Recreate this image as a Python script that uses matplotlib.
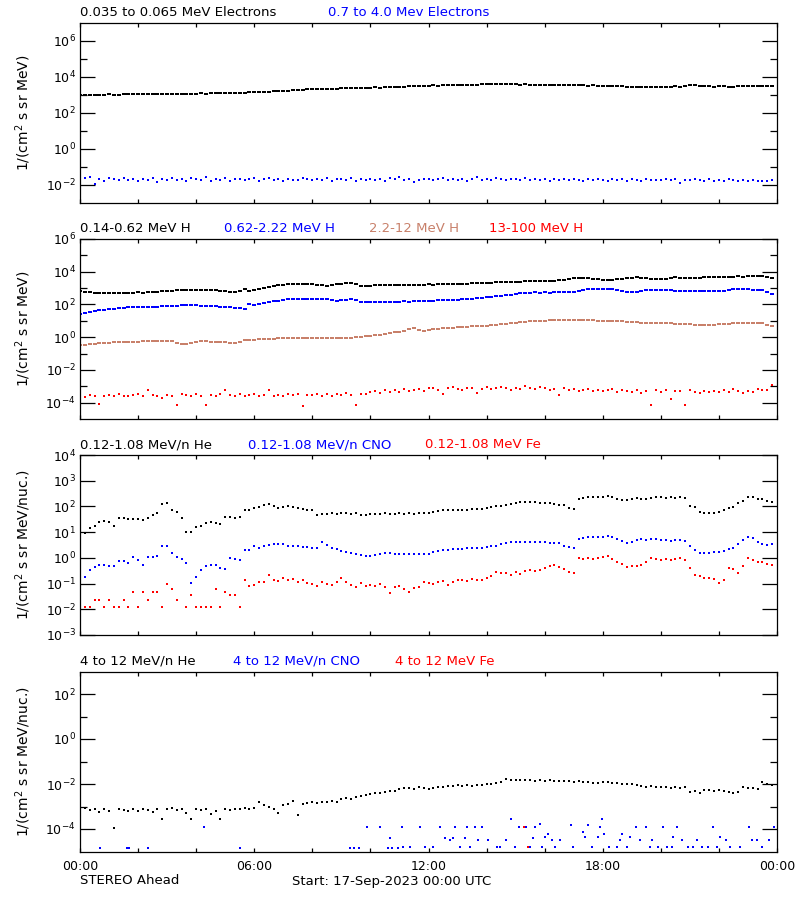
import numpy as np
import matplotlib
matplotlib.use('Agg')
import matplotlib.pyplot as plt
from matplotlib.ticker import FixedLocator, LogFormatterMathtext, NullFormatter

nan = np.nan

# 10 minute samples, hours after 17-Sep-2023 00:00 UTC
hours = np.arange(144) / 6.0

# all series below are log10 of the flux

# panel 1: electrons
elec_lo = [
    3.00, 2.99, 3.01, 3.00, 3.02, 3.01, 3.03, 3.02, 3.02, 3.03, 3.04, 3.03,
    3.04, 3.05, 3.04, 3.05, 3.06, 3.05, 3.06, 3.07, 3.06, 3.07, 3.08, 3.07,
    3.08, 3.09, 3.08, 3.10, 3.09, 3.11, 3.10, 3.12, 3.11, 3.13, 3.12, 3.14,
    3.14, 3.15, 3.17, 3.18, 3.20, 3.22, 3.23, 3.25, 3.26, 3.28, 3.29, 3.31,
    3.32, 3.31, 3.33, 3.34, 3.36, 3.35, 3.37, 3.38, 3.37, 3.39, 3.38, 3.40,
    3.40, 3.42, 3.41, 3.43, 3.44, 3.46, 3.46, 3.47, 3.49, 3.48, 3.50, 3.51,
    3.52, 3.53, 3.52, 3.54, 3.55, 3.54, 3.56, 3.55, 3.57, 3.58, 3.57, 3.59,
    3.60, 3.61, 3.60, 3.61, 3.60, 3.59, 3.60, 3.58, 3.59, 3.58, 3.57, 3.58,
    3.57, 3.56, 3.57, 3.55, 3.56, 3.54, 3.55, 3.53, 3.54, 3.52, 3.53, 3.51,
    3.51, 3.52, 3.50, 3.49, 3.48, 3.47, 3.46, 3.47, 3.45, 3.46, 3.45, 3.46,
    3.45, 3.47, 3.46, 3.48, 3.47, 3.52, 3.54, 3.53, 3.50, 3.49, 3.48, 3.47,
    3.48, 3.49, 3.47, 3.46, 3.48, 3.51, 3.52, 3.51, 3.50, 3.51, 3.50, 3.50,
]
elec_hi = [
    -1.72, -1.62, -1.58, -1.95, -1.65, -1.75, -1.60, -1.68, -1.73, -1.62, -1.70, -1.66,
    -1.78, -1.65, -1.72, -1.60, -1.85, -1.69, -1.74, -1.63, -1.70, -1.66, -1.77, -1.61,
    -1.68, -1.72, -1.58, -1.75, -1.66, -1.70, -1.62, -1.78, -1.67, -1.64, -1.71, -1.69,
    -1.63, -1.75, -1.68, -1.60, -1.72, -1.66, -1.80, -1.64, -1.70, -1.73, -1.61, -1.68,
    -1.74, -1.66, -1.70, -1.59, -1.77, -1.65, -1.69, -1.72, -1.62, -1.75, -1.67, -1.70,
    -1.64, -1.71, -1.68, -1.76, -1.63, -1.69, -1.58, -1.73, -1.66, -1.82, -1.70, -1.67,
    -1.65, -1.72, -1.69, -1.61, -1.74, -1.68, -1.70, -1.64, -1.75, -1.67, -1.55, -1.71,
    -1.66, -1.73, -1.62, -1.69, -1.71, -1.65, -1.68, -1.74, -1.60, -1.70, -1.67, -1.72,
    -1.69, -1.75, -1.66, -1.71, -1.64, -1.73, -1.68, -1.70, -1.80, -1.66, -1.72, -1.69,
    -1.70, -1.78, -1.67, -1.73, -1.65, -1.76, -1.69, -1.72, -1.75, -1.67, -1.70, -1.74,
    -1.71, -1.68, -1.73, -1.66, -1.90, -1.70, -1.74, -1.64, -1.72, -1.77, -1.69, -1.75,
    -1.72, -1.76, -1.68, -1.74, -1.80, -1.71, -1.77, -1.73, -1.79, -1.75, -1.76, -1.74,
]

# panel 2: protons
h_lo = [
    2.81, 2.78, 2.74, 2.71, 2.70, 2.70, 2.71, 2.70, 2.72, 2.71, 2.73, 2.72,
    2.74, 2.73, 2.76, 2.75, 2.78, 2.80, 2.81, 2.84, 2.87, 2.90, 2.91, 2.90,
    2.91, 2.89, 2.90, 2.88, 2.87, 2.84, 2.80, 2.76, 2.75, 2.85, 2.93, 2.82,
    2.88, 2.95, 3.02, 3.08, 3.13, 3.17, 3.19, 3.22, 3.24, 3.26, 3.25, 3.27,
    3.24, 3.20, 3.16, 3.15, 3.19, 3.23, 3.27, 3.31, 3.30, 3.25, 3.14, 3.13,
    3.15, 3.17, 3.19, 3.20, 3.21, 3.20, 3.19, 3.18, 3.20, 3.21, 3.19, 3.21,
    3.22, 3.21, 3.23, 3.22, 3.24, 3.26, 3.27, 3.26, 3.28, 3.29, 3.30, 3.31,
    3.32, 3.33, 3.35, 3.36, 3.37, 3.36, 3.38, 3.40, 3.41, 3.42, 3.43, 3.44,
    3.45, 3.44, 3.46, 3.48, 3.52, 3.57, 3.60, 3.61, 3.60, 3.61, 3.58, 3.53,
    3.50, 3.49, 3.51, 3.55, 3.58, 3.60, 3.63, 3.65, 3.64, 3.62, 3.57, 3.55,
    3.56, 3.58, 3.63, 3.65, 3.64, 3.63, 3.62, 3.63, 3.64, 3.65, 3.66, 3.67,
    3.66, 3.67, 3.69, 3.70, 3.71, 3.70, 3.71, 3.72, 3.73, 3.72, 3.70, 3.62,
]
h_mid = [
    1.43, 1.47, 1.53, 1.59, 1.64, 1.68, 1.71, 1.74, 1.77, 1.80, 1.82, 1.83,
    1.84, 1.85, 1.86, 1.85, 1.87, 1.88, 1.89, 1.90, 1.92, 1.94, 1.96, 1.97,
    1.95, 1.93, 1.92, 1.90, 1.88, 1.86, 1.84, 1.82, 1.79, 1.76, 1.75, 2.03,
    1.98, 2.05, 2.10, 2.16, 2.20, 2.24, 2.28, 2.32, 2.35, 2.36, 2.35, 2.34,
    2.33, 2.34, 2.32, 2.33, 2.28, 2.22, 2.25, 2.29, 2.31, 2.28, 2.14, 2.13,
    2.14, 2.15, 2.14, 2.16, 2.15, 2.17, 2.18, 2.19, 2.18, 2.20, 2.21, 2.22,
    2.23, 2.24, 2.25, 2.26, 2.27, 2.28, 2.30, 2.31, 2.32, 2.34, 2.37, 2.40,
    2.43, 2.46, 2.49, 2.51, 2.55, 2.60, 2.64, 2.68, 2.71, 2.73, 2.74, 2.73,
    2.74, 2.73, 2.74, 2.75, 2.74, 2.76, 2.75, 2.80, 2.88, 2.93, 2.95, 2.96,
    2.95, 2.94, 2.93, 2.90, 2.84, 2.78, 2.75, 2.76, 2.80, 2.88, 2.91, 2.90,
    2.91, 2.89, 2.86, 2.85, 2.84, 2.85, 2.84, 2.83, 2.82, 2.81, 2.82, 2.81,
    2.82, 2.85, 2.90, 2.95, 2.94, 2.93, 2.92, 2.90, 2.89, 2.88, 2.78, 2.62,
]
h_hi = [
    -0.48, -0.45, -0.42, -0.39, -0.37, -0.35, -0.33, -0.31, -0.30, -0.29, -0.28, -0.28,
    -0.27, -0.26, -0.25, -0.24, -0.23, -0.22, -0.22, -0.26, -0.35, -0.42, -0.40, -0.33,
    -0.27, -0.25, -0.26, -0.28, -0.29, -0.30, -0.31, -0.33, -0.34, -0.30, -0.19, -0.18,
    -0.16, -0.14, -0.12, -0.10, -0.09, -0.08, -0.08, -0.07, -0.06, -0.07, -0.06, -0.07,
    -0.06, -0.07, -0.08, -0.08, -0.07, -0.06, -0.05, -0.04, -0.03, -0.01, 0.02, 0.05,
    0.08, 0.12, 0.16, 0.20, 0.24, 0.29, 0.34, 0.40, 0.50, 0.58, 0.42, 0.40,
    0.44, 0.48, 0.52, 0.54, 0.56, 0.58, 0.60, 0.62, 0.64, 0.66, 0.67, 0.69,
    0.71, 0.74, 0.77, 0.80, 0.83, 0.86, 0.89, 0.92, 0.94, 0.96, 0.98, 1.00,
    1.01, 1.02, 1.03, 1.03, 1.04, 1.03, 1.03, 1.04, 1.03, 1.02, 1.03, 1.01,
    1.00, 0.99, 0.98, 0.97, 0.96, 0.95, 0.93, 0.91, 0.89, 0.88, 0.87, 0.87,
    0.86, 0.85, 0.84, 0.83, 0.81, 0.80, 0.79, 0.77, 0.74, 0.73, 0.75, 0.77,
    0.79, 0.80, 0.82, 0.84, 0.85, 0.86, 0.87, 0.88, 0.89, 0.89, 0.72, 0.66,
]
h_top = [
    -3.30, -3.65, -3.52, -3.60, -4.10, -3.58, -3.55, -3.62, -3.48, -3.57, -3.60, -3.53,
    -3.50, -3.62, -3.25, -3.55, -3.60, -3.70, -3.52, -3.58, -4.15, -3.50, -3.55, -3.60,
    -3.45, -3.57, -4.15, -3.52, -3.60, -3.48, -3.25, -3.55, -3.62, -3.50, -3.57, -3.54,
    -3.48, -3.60, -3.55, -3.20, -3.58, -3.52, -3.62, -3.47, -3.55, -3.50, -4.18, -3.56,
    -3.52, -3.45, -3.58, -3.50, -3.62, -3.48, -3.55, -3.40, -3.52, -4.15, -3.45, -3.50,
    -3.38, -3.30, -3.42, -3.25, -3.35, -3.20, -3.32, -3.18, -3.28, -3.22, -3.15, -3.30,
    -3.12, -3.08, -3.20, -3.45, -3.10, -3.05, -3.15, -3.25, -3.12, -3.08, -3.40, -3.18,
    -3.05, -3.15, -3.10, -3.02, -3.12, -3.20, -3.08, -3.15, -3.00, -3.10, -3.18, -3.05,
    -3.12, -3.20, -3.15, -3.55, -3.10, -3.25, -3.18, -3.30, -3.22, -3.15, -3.28, -3.20,
    -3.30, -3.25, -3.18, -3.35, -3.22, -3.28, -3.32, -3.20, -3.40, -3.27, -4.17, -3.25,
    -3.35, -3.22, -3.80, -3.30, -3.28, -4.15, -3.25, -3.35, -3.40, -3.30, -3.38, -3.27,
    -3.32, -3.25, -3.35, -3.18, -3.30, -3.40, -3.28, -3.33, -3.15, -3.25, -3.20, -2.93,
]

# panel 3: 0.12-1.08 MeV/n heavy ions
he_lo = [
    1.08, 0.95, 1.15, 1.25, 1.40, 1.42, 1.38, 1.23, 1.54, 1.55, 1.52, 1.50,
    1.50, 1.48, 1.55, 1.67, 1.76, 2.11, 2.12, 1.86, 1.80, 1.56, 1.00, 0.99,
    1.19, 1.22, 1.37, 1.38, 1.36, 1.33, 1.57, 1.58, 1.56, 1.60, 1.86, 1.88,
    1.93, 1.98, 2.05, 2.09, 2.02, 1.95, 1.98, 2.00, 1.96, 1.92, 1.90, 1.88,
    1.87, 1.67, 1.70, 1.72, 1.74, 1.71, 1.73, 1.75, 1.72, 1.74, 1.65, 1.68,
    1.72, 1.70, 1.71, 1.73, 1.72, 1.70, 1.73, 1.72, 1.74, 1.71, 1.73, 1.75,
    1.76, 1.80, 1.84, 1.86, 1.85, 1.87, 1.86, 1.88, 1.87, 1.89, 1.90, 1.91,
    1.93, 1.96, 2.00, 2.02, 2.06, 2.10, 2.14, 2.18, 2.17, 2.16, 2.18, 2.15,
    2.14, 2.12, 2.10, 2.07, 2.06, 1.92, 1.90, 2.29, 2.33, 2.36, 2.38, 2.37,
    2.38, 2.39, 2.36, 2.30, 2.25, 2.26, 2.28, 2.31, 2.30, 2.27, 2.33, 2.35,
    2.36, 2.34, 2.35, 2.33, 2.36, 2.34, 2.00, 1.96, 1.77, 1.76, 1.75, 1.76,
    1.78, 1.88, 1.93, 1.98, 2.15, 2.20, 2.38, 2.36, 2.28, 2.27, 2.20, 2.17,
]
cno_lo = [
    -0.60, -0.73, -0.47, -0.35, -0.28, -0.27, -0.30, -0.32, -0.11, -0.12, -0.20, 0.04,
    -0.10, -0.28, 0.05, 0.03, 0.06, 0.46, 0.45, 0.20, 0.05, -0.05, -0.20, -0.97,
    -0.76, -0.47, -0.30, -0.28, -0.27, -0.40, -0.45, 0.00, -0.05, -0.10, 0.30, 0.32,
    0.46, 0.40, 0.46, 0.50, 0.52, 0.54, 0.52, 0.48, 0.46, 0.45, 0.44, 0.42,
    0.40, 0.37, 0.60, 0.50, 0.37, 0.33, 0.26, 0.22, 0.18, 0.14, 0.10, 0.06,
    0.08, 0.12, 0.16, 0.19, 0.17, 0.15, 0.15, 0.14, 0.16, 0.15, 0.14, 0.16,
    0.15, 0.22, 0.26, 0.30, 0.32, 0.34, 0.35, 0.36, 0.38, 0.37, 0.39, 0.40,
    0.42, 0.45, 0.48, 0.52, 0.56, 0.60, 0.62, 0.63, 0.62, 0.61, 0.62, 0.63,
    0.60, 0.59, 0.58, 0.57, 0.45, 0.42, 0.40, 0.75, 0.78, 0.80, 0.82, 0.83,
    0.82, 0.84, 0.80, 0.75, 0.65, 0.58, 0.60, 0.68, 0.72, 0.70, 0.74, 0.72,
    0.69, 0.68, 0.67, 0.69, 0.68, 0.66, 0.45, 0.30, 0.20, 0.19, 0.18, 0.21,
    0.22, 0.27, 0.33, 0.40, 0.55, 0.70, 0.82, 0.78, 0.62, 0.55, 0.49, 0.52,
]
fe_lo = [
    nan, -1.93, -1.93, -1.64, -1.64, -1.93, -1.64, -1.93, -1.93, -1.64, -1.93, -1.32,
    -1.93, -1.32, -1.64, -1.32, -1.32, -1.93, -1.03, -1.23, -1.64, nan, -1.93, -1.45,
    -1.93, -1.93, -1.93, -1.93, -1.20, -1.93, -1.32, -1.45, -1.45, -1.93, -0.87, -1.10,
    -1.06, -0.95, -0.93, -0.67, -0.85, -0.90, -0.80, -0.86, -0.82, -0.93, -0.88, -0.98,
    -1.00, -1.08, -0.95, -1.02, -1.06, -0.92, -0.80, -0.95, -1.05, -1.15, -0.97, -1.08,
    -1.06, -1.10, -1.02, -1.15, -1.36, -1.12, -1.08, -1.20, -1.32, -1.18, -1.12, -0.93,
    -0.98, -1.00, -0.95, -0.90, -1.05, -0.92, -0.88, -0.86, -0.90, -0.84, -0.88, -0.86,
    -0.80, -0.72, -0.54, -0.60, -0.58, -0.65, -0.55, -0.62, -0.50, -0.47, -0.52, -0.48,
    -0.40, -0.30, -0.28, -0.36, -0.45, -0.55, -0.59, -0.02, -0.05, 0.00, -0.04, -0.02,
    0.05, 0.08, -0.05, -0.18, -0.25, -0.34, -0.30, -0.32, -0.28, -0.15, -0.01, -0.05,
    -0.08, -0.03, -0.10, -0.05, -0.02, -0.08, -0.40, -0.66, -0.70, -0.80, -0.78, -0.82,
    -0.99, -0.85, -0.40, -0.45, -0.59, -0.30, -0.02, -0.10, -0.18, -0.15, -0.22, -0.28,
]

# panel 4: 4 to 12 MeV/n
he_hi = [
    -3.03, -3.08, -3.15, -3.11, -3.26, -3.12, -3.18, -3.96, -3.10, -3.15, -3.22, -3.12,
    -3.18, -3.10, -3.14, -3.25, -3.09, -3.55, -3.12, -3.08, -3.16, -3.13, -3.30, -3.55,
    -3.10, -3.14, -3.12, -3.35, -3.20, -3.55, -3.12, -3.15, -3.10, -3.13, -3.08, -3.10,
    -3.05, -2.79, -2.95, -3.00, -3.10, -3.29, -2.95, -2.88, -2.76, -3.39, -2.90, -2.85,
    -2.80, -2.85, -2.78, -2.82, -2.75, -2.78, -2.68, -2.63, -2.65, -2.58, -2.55, -2.50,
    -2.45, -2.41, -2.40, -2.36, -2.33, -2.30, -2.22, -2.19, -2.17, -2.20, -2.15, -2.19,
    -2.24, -2.18, -2.14, -2.12, -2.08, -2.10, -2.06, -2.08, -2.05, -2.07, -2.03, -2.05,
    -2.02, -2.00, -1.96, -1.93, -1.78, -1.82, -1.84, -1.81, -1.83, -1.82, -1.85, -1.83,
    -1.86, -1.84, -1.87, -1.86, -1.88, -1.87, -1.90, -1.88, -1.92, -1.93, -1.97, -1.95,
    -1.93, -1.92, -1.95, -1.96, -1.98, -2.00, -2.02, -2.05, -2.08, -2.13, -2.10, -2.12,
    -2.15, -2.14, -2.16, -2.13, -2.18, -2.14, -2.36, -2.30, -2.42, -2.28, -2.25, -2.30,
    -2.26, -2.30, -2.35, -2.42, -2.36, -2.15, -2.18, -2.16, -2.20, -1.93, -2.00, -2.05,
]
# sparse counts: (hour, log10 flux)
cno_hi = [
    (0.69, -4.85), (1.61, -4.85), (1.70, -4.85), (2.33, -4.85), (4.27, -3.93),
    (5.51, -4.85), (9.30, -4.85), (9.45, -4.85), (9.60, -4.85), (9.87, -3.93),
    (10.33, -3.93), (10.60, -4.85), (10.67, -4.38), (10.75, -4.85), (10.95, -4.85),
    (11.08, -3.89), (11.13, -4.82), (11.36, -4.82), (11.71, -3.89), (11.88, -4.82),
    (12.17, -4.82), (12.40, -3.93), (12.57, -4.38), (12.74, -4.50), (12.86, -4.38),
    (12.91, -3.89), (13.09, -4.82), (13.26, -4.38), (13.31, -3.93), (13.43, -4.82),
    (13.60, -3.93), (13.71, -4.50), (13.83, -3.93), (14.06, -4.50), (14.35, -4.82),
    (14.46, -4.82), (14.67, -4.50), (14.84, -3.55), (14.98, -4.82), (15.10, -3.93),
    (15.36, -3.89), (15.49, -4.82), (15.59, -4.38), (15.67, -3.89), (15.84, -3.78),
    (15.90, -4.82), (16.01, -4.34), (16.13, -4.20), (16.24, -4.50), (16.36, -4.82),
    (16.53, -4.50), (16.90, -3.80), (16.99, -4.82), (17.31, -4.14), (17.39, -4.34),
    (17.50, -3.82), (17.62, -4.82), (17.85, -4.34), (17.91, -3.89), (17.99, -3.55),
    (18.06, -4.22), (18.20, -4.82), (18.48, -4.82), (18.59, -4.50), (18.65, -4.22),
    (18.83, -4.82), (18.94, -4.34), (19.15, -3.89), (19.28, -4.50), (19.48, -3.93),
    (19.63, -4.82), (19.71, -4.50), (19.91, -4.82), (20.09, -3.93), (20.20, -4.82),
    (20.37, -4.82), (20.43, -4.34), (20.57, -3.89), (20.72, -4.50), (20.95, -4.82),
    (21.12, -4.82), (21.24, -4.50), (21.41, -4.82), (21.64, -4.82), (21.81, -3.89),
    (21.92, -4.82), (22.04, -4.34), (22.25, -4.50), (22.38, -4.82), (22.73, -4.82),
    (23.05, -3.93), (23.13, -4.50), (23.30, -4.50), (23.47, -4.82), (23.71, -4.50),
    (23.90, -3.89),
]
fe_hi = [(15.30, -3.89), (15.42, -4.82)]

BLUE = '#0000ff'
RED = '#ff0000'
BROWN = '#c8806a'

# a flat little box: smooth series look like dashed strings of points
DASH = [(-1, -0.55), (1, -0.55), (1, 0.55), (-1, 0.55), (-1, -0.55)]

plt.rcParams['font.family'] = 'DejaVu Sans'
plt.rcParams['mathtext.default'] = 'regular'

fig = plt.figure(figsize=(8, 9), dpi=100)

# axes boxes in pixels: left 80, right 777, each panel 180 px tall
tops = [23, 239, 455, 671.5]
axes = [fig.add_axes([80 / 800, 1 - (t + 180) / 900, 697 / 800, 180 / 900]) for t in tops]


def setup(ax, ymin, ymax, major, minor, ylabel, bottom=False):
    ax.set_xlim(0, 24)
    ax.set_yscale('log')
    ax.set_ylim(10.0 ** ymin, 10.0 ** ymax)
    ax.yaxis.set_major_locator(FixedLocator([10.0 ** e for e in major]))
    ax.yaxis.set_minor_locator(FixedLocator([10.0 ** e for e in minor]))
    ax.yaxis.set_major_formatter(LogFormatterMathtext())
    ax.yaxis.set_minor_formatter(NullFormatter())
    ax.tick_params(axis='y', which='major', direction='in', length=10.8, width=0.9,
                   left=True, right=True, labelsize=9, pad=3)
    ax.tick_params(axis='y', which='minor', direction='in', length=5, width=0.9,
                   left=True, right=True)
    ax.xaxis.set_major_locator(FixedLocator([0, 6, 12, 18, 24]))
    ax.xaxis.set_minor_locator(FixedLocator([2, 4, 8, 10, 14, 16, 20, 22]))
    ax.tick_params(axis='x', which='both', direction='in', length=3, width=0.9,
                   top=True, bottom=True, labelsize=9, pad=6)
    if bottom:
        ax.set_xticklabels(['00:00', '06:00', '12:00', '18:00', '00:00'])
    else:
        ax.set_xticklabels([])
    for s in ax.spines.values():
        s.set_linewidth(0.9)
    ax.set_ylabel(ylabel, fontsize=10)
    ax.yaxis.set_label_coords(-0.067, 0.5)


def dots(ax, x, logy, color, smooth=False):
    if smooth:
        ax.plot(x, 10.0 ** np.asarray(logy, dtype=float), linestyle='none', marker=DASH,
                markersize=2.6, markeredgewidth=0, color=color)
    else:
        ax.plot(x, 10.0 ** np.asarray(logy, dtype=float), linestyle='none', marker='s',
                markersize=1.6, markeredgewidth=0, color=color)


def labels(ax, items):
    for xpos, text, color in items:
        ax.text(xpos, 1.056, text, transform=ax.transAxes, color=color,
                fontsize=9.5, ha='left', va='center')


unit = '1/(cm$^2$ s sr MeV)'
unit_n = '1/(cm$^2$ s sr MeV/nuc.)'

ax = axes[0]
setup(ax, -3, 7, [-2, 0, 2, 4, 6], [-1, 1, 3, 5], unit)
dots(ax, hours, elec_lo, 'black', smooth=True)
dots(ax, hours, elec_hi, BLUE)
labels(ax, [(0.0, '0.035 to 0.065 MeV Electrons', 'black'),
            (0.356, '0.7 to 4.0 Mev Electrons', BLUE)])

ax = axes[1]
setup(ax, -5, 6, [-4, -2, 0, 2, 4, 6], [-3, -1, 1, 3, 5], unit)
dots(ax, hours, h_lo, 'black', smooth=True)
dots(ax, hours, h_mid, BLUE, smooth=True)
dots(ax, hours, h_hi, BROWN, smooth=True)
dots(ax, hours, h_top, RED)
labels(ax, [(0.0, '0.14-0.62 MeV H', 'black'),
            (0.207, '0.62-2.22 MeV H', BLUE),
            (0.414, '2.2-12 MeV H', BROWN),
            (0.587, '13-100 MeV H', RED)])

ax = axes[2]
setup(ax, -3, 4, [-3, -2, -1, 0, 1, 2, 3, 4], [], unit_n)
dots(ax, hours, he_lo, 'black')
dots(ax, hours, cno_lo, BLUE)
dots(ax, hours, fe_lo, RED)
labels(ax, [(0.0, '0.12-1.08 MeV/n He', 'black'),
            (0.2415, '0.12-1.08 MeV/n CNO', BLUE),
            (0.495, '0.12-1.08 MeV Fe', RED)])

ax = axes[3]
setup(ax, -5, 3, [-4, -2, 0, 2], [-3, -1, 1], unit_n, bottom=True)
dots(ax, hours, he_hi, 'black')
dots(ax, [p[0] for p in cno_hi], [p[1] for p in cno_hi], BLUE)
dots(ax, [p[0] for p in fe_hi], [p[1] for p in fe_hi], RED)
labels(ax, [(0.0, '4 to 12 MeV/n He', 'black'),
            (0.219, '4 to 12 MeV/n CNO', BLUE),
            (0.452, '4 to 12 MeV Fe', RED)])

fig.text(80 / 800, 1 - 881 / 900, 'STEREO Ahead', fontsize=9.5, va='center', ha='left')
fig.text(292 / 800, 1 - 881 / 900, 'Start: 17-Sep-2023 00:00 UTC', fontsize=9.5,
         va='center', ha='left')

fig.savefig('out.png', dpi=100, facecolor='white')
